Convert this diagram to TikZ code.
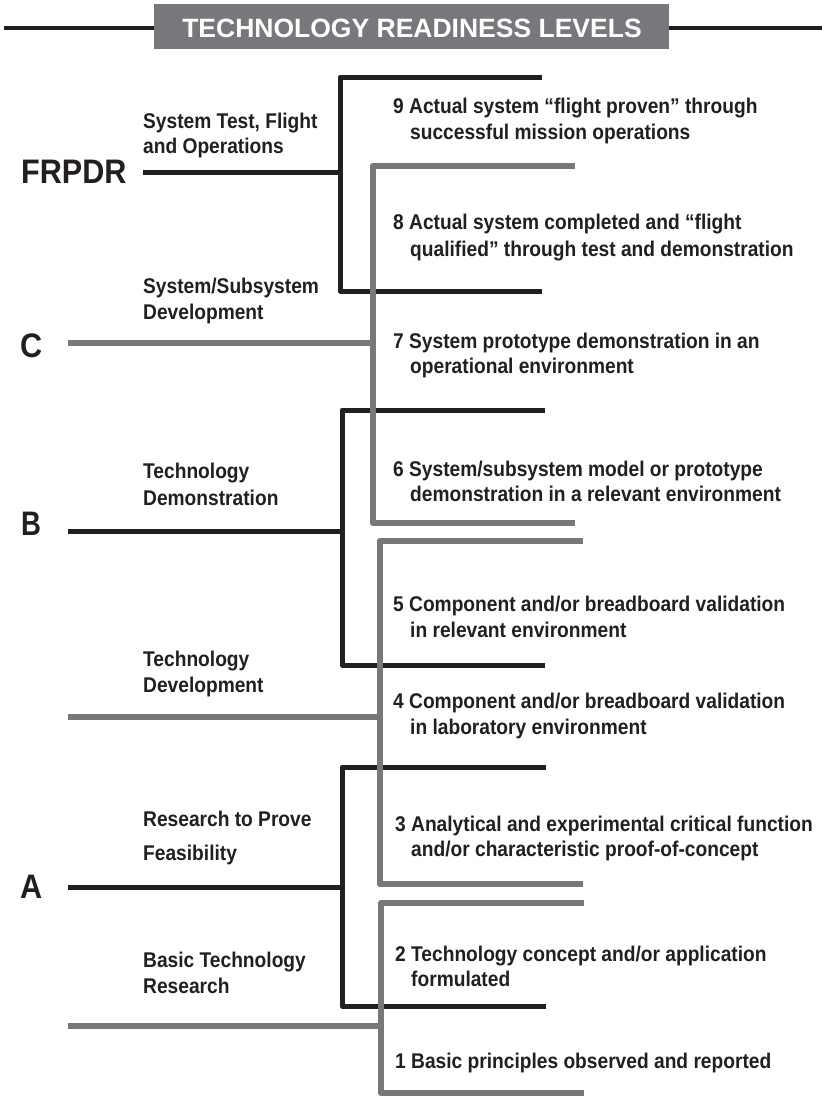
\documentclass[tikz,border=0pt]{standalone}
\usepackage{fontspec}
\setmainfont[FakeStretch=0.9]{Liberation Sans}
\newfontfamily\titlefont{Liberation Sans}
\definecolor{trlgray}{HTML}{77787B}
\definecolor{trlblack}{HTML}{231F20}
\begin{document}
\begin{tikzpicture}[x=1pt,y=-1pt,
  blk/.style={draw=trlblack, line width=5pt, line join=round},
  gry/.style={draw=trlgray, line width=6.5pt, line join=round},
  lab/.style={font=\fontsize{21.3}{24}\selectfont\bfseries, text=trlblack, anchor=base west, inner sep=0pt},
  side/.style={font=\fontsize{21.3}{24}\selectfont\bfseries, text=trlblack, anchor=base west, inner sep=0pt},
  big/.style={font=\fontsize{34}{34}\selectfont\bfseries, text=trlblack, anchor=base west, inner sep=0pt}]
\useasboundingbox (0,0) rectangle (824,1098);
\fill[white] (0,0) rectangle (824,1098);
% title
\fill[trlgray] (154,4) rectangle (669,49);
\node[font=\titlefont\fontsize{26.5}{26.5}\selectfont\bfseries, text=white, inner sep=0pt] (title) at (412,28) {TECHNOLOGY READINESS LEVELS};
\coordinate (tl1) at (4,28); \coordinate (tl2) at (154,28);
\coordinate (tr1) at (669,28); \coordinate (tr2) at (822,28);
\draw[draw=trlblack, line width=4.5pt] (tl1) -- (tl2);
\draw[draw=trlblack, line width=4.5pt] (tr1) -- (tr2);
% big letters
\node[big] (FRPDR) at (21,183) {FRPDR};
\node[big] (C) at (20,357) {C};
\node[big] (B) at (21,535) {\scalebox{0.9}[1]{B}};
\node[big] (A) at (20,898) {A};
% side labels
\node[side] (s9a) at (143,128) {System Test, Flight};
\node[side] (s9b) at (143,153) {and Operations};
\node[side] (s7a) at (143,293) {System/Subsystem};
\node[side] (s7b) at (143,319) {Development};
\node[side] (s6a) at (143,478) {Technology};
\node[side] (s6b) at (143,505) {Demonstration};
\node[side] (s4a) at (143,666) {Technology};
\node[side] (s4b) at (143,692) {Development};
\node[side] (s3a) at (143,826) {Research to Prove};
\node[side] (s3b) at (143,860) {Feasibility};
\node[side] (s1a) at (143,967) {Basic Technology};
\node[side] (s1b) at (143,993) {Research};
% black brackets
\coordinate (k1t) at (542,77); \coordinate (k1b) at (542,291);
\coordinate (k1v) at (340,172); \coordinate (k1l) at (143,172);
\draw[blk] (k1t) -| (k1v) |- (k1b);
\draw[blk] (k1l) -- (k1v);
\coordinate (k2t) at (545,410); \coordinate (k2b) at (545,665);
\coordinate (k2v) at (342,531); \coordinate (k2l) at (68,531);
\draw[blk] (k2t) -| (k2v) |- (k2b);
\draw[blk] (k2l) -- (k2v);
\coordinate (k3t) at (546,767); \coordinate (k3b) at (546,1006);
\coordinate (k3v) at (342,887); \coordinate (k3l) at (68,887);
\draw[blk] (k3t) -| (k3v) |- (k3b);
\draw[blk] (k3l) -- (k3v);
% gray brackets
\coordinate (g1t) at (575,166); \coordinate (g1b) at (575,523);
\coordinate (g1v) at (373,343); \coordinate (g1l) at (68,343);
\draw[gry] (g1t) -| (g1v) |- (g1b);
\draw[gry] (g1l) -- (g1v);
\coordinate (g2t) at (583,541); \coordinate (g2b) at (583,884);
\coordinate (g2v) at (380,717); \coordinate (g2l) at (68,717);
\draw[gry] (g2t) -| (g2v) |- (g2b);
\draw[gry] (g2l) -- (g2v);
\coordinate (g3t) at (584,903); \coordinate (g3b) at (584,1093);
\coordinate (g3v) at (381,1026); \coordinate (g3l) at (68,1026);
\draw[gry] (g3t) -| (g3v) |- (g3b);
\draw[gry] (g3l) -- (g3v);
% level texts
\node[lab] (t9a) at (393,113) {9 Actual system “flight proven” through};
\node[lab] (t9b) at (410,139) {successful mission operations};
\node[lab] (t8a) at (393,229) {8 Actual system completed and “flight};
\node[lab] (t8b) at (410,256) {qualified” through test and demonstration};
\node[lab] (t7a) at (393,348) {7 System prototype demonstration in an};
\node[lab] (t7b) at (410,373) {operational environment};
\node[lab] (t6a) at (393,476) {6 System/subsystem model or prototype};
\node[lab] (t6b) at (410,501) {demonstration in a relevant environment};
\node[lab] (t5a) at (393,611) {5 Component and/or breadboard validation};
\node[lab] (t5b) at (410,637) {in relevant environment};
\node[lab] (t4a) at (393,708) {4 Component and/or breadboard validation};
\node[lab] (t4b) at (410,734) {in laboratory environment};
\node[lab] (t3a) at (395,831) {3 Analytical and experimental critical function};
\node[lab] (t3b) at (411,856) {and/or characteristic proof-of-concept};
\node[lab] (t2a) at (395,961) {2 Technology concept and/or application};
\node[lab] (t2b) at (411,986) {formulated};
\node[lab] (t1a) at (395,1068) {1 Basic principles observed and reported};
\end{tikzpicture}
\end{document}
